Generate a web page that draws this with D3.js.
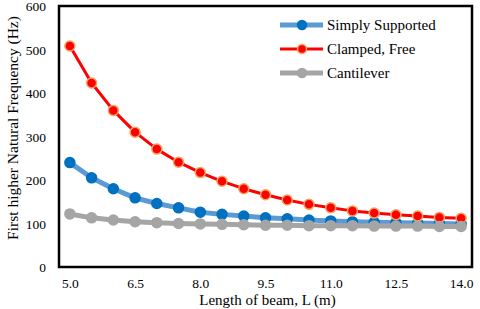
<!DOCTYPE html>
<html>
<head>
<meta charset="utf-8">
<script src="https://cdn.jsdelivr.net/npm/d3@7"></script>
<style>
  body { margin: 0; background: #fff; }
</style>
</head>
<body>
<div id="chart"></div>
<script>
// beam lengths (m)
const lengths = [5.0, 5.5, 6.0, 6.5, 7.0, 7.5, 8.0, 8.5, 9.0, 9.5, 10.0, 10.5, 11.0, 11.5, 12.0, 12.5, 13.0, 13.5, 14.0];
const simplySupported = [240, 205, 180, 159, 146, 136, 126, 121, 117, 113, 111, 108, 106, 104, 103, 102, 101, 100, 99];
const clampedFree = [508, 423, 360, 310, 271, 241, 217, 197, 180, 166, 154, 144, 136, 129, 124, 120, 117, 114, 112];
const cantilever = [122, 113, 108, 104, 102, 100, 99, 98, 97, 96, 96, 95, 95, 95, 94, 94, 94, 93, 93];
const xTickLabels = ["5.0", "6.5", "8.0", "9.5", "11.0", "12.5", "14.0"];
const yTicks = [0, 100, 200, 300, 400, 500, 600];

const series = [
  { name: "Simply Supported", values: simplySupported, line: "#5B9BD5", lw: 5, fill: "#0070C0", stroke: "#0070C0" },
  { name: "Clamped, Free", values: clampedFree, line: "#FF0000", lw: 3, fill: "#FF0000", stroke: "#F4A460" },
  { name: "Cantilever", values: cantilever, line: "#A5A5A5", lw: 5, fill: "#A5A5A5", stroke: "#A5A5A5" }
];

const FONT = "Liberation Serif";

const width = 480, height = 309;
const margin = { top: 6, right: 8, bottom: 42, left: 59 };
const plotW = width - margin.left - margin.right;
const plotH = height - margin.top - margin.bottom;

const svg = d3.select("#chart").append("svg")
  .attr("width", width)
  .attr("height", height);

const g = svg.append("g").attr("transform", `translate(${margin.left},${margin.top})`);

// category axis, points centred in each slot like Excel
const x = d3.scalePoint()
  .domain(lengths.map(d => d.toFixed(1)))
  .range([0, plotW])
  .padding(0.5);

const y = d3.scaleLinear().domain([0, 600]).range([plotH, 0]);

// y tick labels
const yAxis = d3.axisLeft(y).tickValues(yTicks).tickSize(0).tickPadding(13);
g.append("g").call(yAxis)
  .call(s => s.select(".domain").remove())
  .selectAll("text")
  .style("font-family", FONT)
  .style("font-size", "13.5px")
  .attr("fill", "#000")
  .attr("dy", "0.36em");

// x tick labels
const xAxis = d3.axisBottom(x).tickValues(xTickLabels).tickSize(0).tickPadding(11);
g.append("g").attr("transform", `translate(0,${plotH})`).call(xAxis)
  .call(s => s.select(".domain").remove())
  .selectAll("text")
  .style("font-family", FONT)
  .style("font-size", "13.5px")
  .attr("fill", "#000");

// lines and markers
const line = d3.line()
  .x((d, i) => x(lengths[i].toFixed(1)))
  .y(d => y(d));

series.forEach(s => {
  g.append("path")
    .datum(s.values)
    .attr("fill", "none")
    .attr("stroke", s.line)
    .attr("stroke-width", s.lw)
    .attr("stroke-linejoin", "round")
    .attr("d", line);

  g.selectAll(null)
    .data(s.values)
    .enter()
    .append("circle")
    .attr("cx", (d, i) => x(lengths[i].toFixed(1)))
    .attr("cy", d => y(d))
    .attr("r", 5)
    .attr("fill", s.fill)
    .attr("stroke", s.stroke)
    .attr("stroke-width", 1.5);
});

// plot frame
g.append("rect")
  .attr("width", plotW)
  .attr("height", plotH)
  .attr("fill", "none")
  .attr("stroke", "#000")
  .attr("stroke-width", 2.5);

// legend
const legend = g.append("g").attr("transform", "translate(221,19)");
series.forEach((s, i) => {
  const row = legend.append("g").attr("transform", `translate(0,${i * 24})`);
  row.append("line")
    .attr("x1", 0).attr("x2", 43)
    .attr("stroke", s.line)
    .attr("stroke-width", s.lw);
  row.append("circle")
    .attr("cx", 22).attr("r", 4.5)
    .attr("fill", s.fill)
    .attr("stroke", s.stroke)
    .attr("stroke-width", 1.5);
  row.append("text")
    .attr("x", 47).attr("y", 5)
    .style("font-family", FONT)
    .style("font-size", "15px")
    .text(s.name);
});

// axis titles
svg.append("text")
  .attr("x", margin.left + plotW / 2 + 2)
  .attr("y", 305)
  .attr("text-anchor", "middle")
  .style("font-family", FONT)
  .style("font-size", "15px")
  .text("Length of beam, L (m)");

svg.append("text")
  .attr("transform", `translate(18,128) rotate(-90)`)
  .attr("text-anchor", "middle")
  .style("font-family", FONT)
  .style("font-size", "15.5px")
  .text("First higher Natural Frequency (Hz)");
</script>
</body>
</html>
